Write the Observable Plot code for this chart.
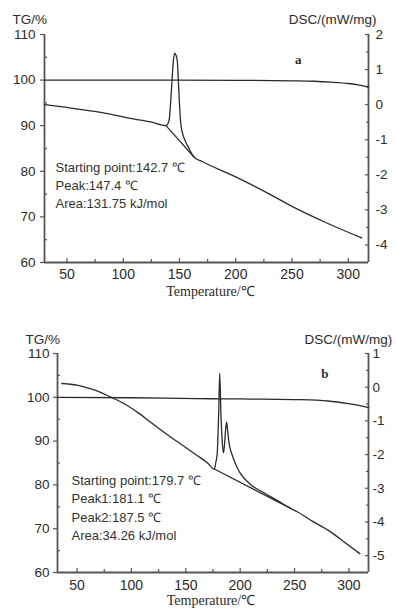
<!DOCTYPE html>
<html><head><meta charset="utf-8">
<script src="https://cdn.jsdelivr.net/npm/d3@7"></script>
<script src="https://cdn.jsdelivr.net/npm/@observablehq/plot@0.6"></script>
<style>
html,body{margin:0;padding:0;background:#fff;width:396px;height:612px;overflow:hidden}
#wrap svg{display:block}
</style></head><body><div id="wrap"></div>
<script>
// ---------- data ----------
const xTicks = [50, 100, 150, 200, 250, 300];
const xMinorTicks = [75, 125, 175, 225, 275];
const tgTicks = [60, 70, 80, 90, 100, 110];
const tgMinorTicks = [65, 75, 85, 95, 105];
const tgDomain = [60, 110];

// chart a
const xDomainA = [30, 318];
const dscDomainA = [-4.5, 2];
const dscTicksA = [2, 1, 0, -1, -2, -3, -4];
const dscMinorA = [1.5, 0.5, -0.5, -1.5, -2.5, -3.5];
const tgTempA = [30, 100, 150, 200, 250, 270, 285, 300, 310, 318];
const tgA     = [100, 100, 100, 99.95, 99.85, 99.75, 99.55, 99.25, 98.9, 98.5];
const dscTempA = [30, 50, 80, 110, 125, 138, 140.7, 142, 142.8, 144.6, 145.8, 147, 148, 149.4, 150.9, 152, 153.8, 156, 158.3, 160.5, 163, 170, 200, 230, 250, 280, 312];
const dscA     = [0, -0.08, -0.22, -0.41, -0.5, -0.6, -0.46, 0.0, 0.4, 1.26, 1.47, 1.4, 1.26, 0.4, -0.46, -0.72, -0.93, -1.1, -1.24, -1.38, -1.5, -1.62, -2.06, -2.55, -2.9, -3.36, -3.8];
const baseTempA = [138, 163];
const baseA     = [-0.6, -1.5];
const notesA = ["Starting point:142.7 \u2103", "Peak:147.4 \u2103", "Area:131.75 kJ/mol"];
const tagA = "a";

// chart b
const xDomainB = [32, 318];
const dscDomainB = [-5.5, 1];
const dscTicksB = [1, 0, -1, -2, -3, -4, -5];
const dscMinorB = [0.5, -0.5, -1.5, -2.5, -3.5, -4.5];
const tgTempB = [32, 100, 160, 210, 250, 270, 283, 298, 310, 318];
const tgB     = [100, 99.9, 99.7, 99.6, 99.48, 99.35, 99.1, 98.6, 98.1, 97.65];
const dscTempB = [36, 50, 62, 70, 80, 95, 108, 118, 136, 145, 160, 170, 176.2, 177.5, 178.9, 180.2, 181.2, 182.2, 183.5, 184.6, 185.5, 186.5, 187.5, 188.5, 189.5, 191, 192.7, 196, 200, 210, 221, 235, 246, 252, 267, 282.5, 295, 310];
const dscB     = [0.11, 0.06, -0.04, -0.13, -0.28, -0.52, -0.8, -1.05, -1.48, -1.68, -2.02, -2.25, -2.43, -2.25, -1.96, -0.8, 0.41, -0.7, -1.6, -1.95, -1.75, -1.3, -1.03, -1.3, -1.6, -1.85, -2.02, -2.3, -2.55, -2.9, -3.12, -3.38, -3.59, -3.69, -3.99, -4.28, -4.58, -4.94];
const baseTempB = [176.2, 246];
const baseB     = [-2.43, -3.59];
const notesB = ["Starting point:179.7 \u2103", "Peak1:181.1 \u2103", "Peak2:187.5 \u2103", "Area:34.26 kJ/mol"];
const tagB = "b";

const yLabel = "TG/%";
const y2Label = "DSC/(mW/mg)";
const xLabel = "Temperature/\u2103";

// ---------- drawing ----------
const ink = "#2b2b2b";
const axisInk = "#555";
const sans = "Liberation Sans, Arial, sans-serif";
const serif = "Liberation Serif, Times New Roman, serif";

function pairs(xs, ys) { return xs.map((x, i) => ({x, y: ys[i]})); }

function chart(c) {
  const [d0, d1] = c.dscDomain;
  const toY = (d) => tgDomain[0] + (d - d0) / (d1 - d0) * (tgDomain[1] - tgDomain[0]);
  const fromY = (v) => d0 + (v - tgDomain[0]) / (tgDomain[1] - tgDomain[0]) * (d1 - d0);
  const fmt = (v) => { const r = Math.round(fromY(v) * 10) / 10; return r < 0 ? "-" + Math.abs(r) : String(r); };
  return Plot.plot({
    width: 396, height: 306,
    marginTop: c.m[0], marginRight: c.m[1], marginBottom: c.m[2], marginLeft: c.m[3],
    x: {domain: c.xDomain},
    y: {domain: tgDomain},
    style: {fontFamily: sans, fontSize: "13px", color: ink, background: "white", overflow: "visible"},
    marks: [
      // axis lines
      Plot.ruleX([c.xDomain[0], c.xDomain[1]], {stroke: axisInk, strokeWidth: 1.8}),
      Plot.ruleY([tgDomain[0]], {stroke: axisInk, strokeWidth: 1.8}),
      // x ticks (inward) and labels
      Plot.axisX({ticks: xTicks, tickSize: 4, dy: -4, fill: "none", stroke: axisInk, strokeWidth: 1.2}),
      Plot.axisX({ticks: xMinorTicks, tickSize: 3, dy: -3, fill: "none", stroke: axisInk, strokeWidth: 1.2}),
      Plot.axisX({ticks: xTicks, tickSize: 0, tickPadding: c.xPad, label: null, fontSize: 14, fill: ink, tickFormat: d3.format("d")}),
      // left axis
      Plot.axisY({ticks: tgTicks, tickSize: 4, fill: "none", stroke: axisInk, strokeWidth: 1.2}),
      Plot.axisY({ticks: tgMinorTicks, tickSize: 3, dx: 3, fill: "none", stroke: axisInk, strokeWidth: 1.2}),
      Plot.axisY({ticks: tgTicks, tickSize: 0, tickPadding: c.yPad, label: null, fontSize: 13.5, fill: ink, tickFormat: d3.format("d")}),
      // right axis
      Plot.axisY({anchor: "right", ticks: c.dscTicks.map(toY), tickSize: 4, dx: -4, fill: "none", stroke: axisInk, strokeWidth: 1.2}),
      Plot.axisY({anchor: "right", ticks: c.dscMinor.map(toY), tickSize: 3, dx: -3, fill: "none", stroke: axisInk, strokeWidth: 1.2}),
      Plot.axisY({anchor: "right", ticks: c.dscTicks.map(toY), tickSize: 0, tickPadding: c.y2Pad, label: null, fontSize: 13.5, fill: ink, tickFormat: fmt}),
      // curves
      Plot.line(pairs(c.tgTemp, c.tg), {x: "x", y: "y", stroke: ink, strokeWidth: 1.3, curve: "monotone-x"}),
      Plot.line(pairs(c.dscTemp, c.dsc).map(p => ({x: p.x, y: toY(p.y)})), {x: "x", y: "y", stroke: ink, strokeWidth: 1.3, strokeLinejoin: "round", curve: "monotone-x"}),
      Plot.line(pairs(c.baseTemp, c.base).map(p => ({x: p.x, y: toY(p.y)})), {x: "x", y: "y", stroke: ink, strokeWidth: 1.2}),
      // texts
      Plot.text([yLabel], {frameAnchor: "top-left", textAnchor: "start", dx: c.yl[0], dy: c.yl[1], fontSize: 13.5, fill: ink}),
      Plot.text([y2Label], {frameAnchor: "top-right", textAnchor: c.y2l[2], dx: c.y2l[0], dy: c.y2l[1], fontSize: 13.5, fill: ink}),
      Plot.text([c.tag], {frameAnchor: "top-right", dx: c.tg2[0], dy: c.tg2[1], fontFamily: serif, fontWeight: "bold", fontSize: 13, fill: ink}),
      Plot.text([c.notes.join("\n")], {frameAnchor: "top-left", textAnchor: "start", lineAnchor: "middle", lineHeight: c.lh, dx: c.nt[0], dy: c.nt[1], fontSize: 13, fill: "#333"}),
      Plot.text([xLabel], {frameAnchor: "bottom", dx: c.xl[0], dy: c.xl[1], fontFamily: serif, fontSize: 14, fill: ink})
    ]
  });
}

const wrap = document.getElementById("wrap");
wrap.append(chart({
  m: [34, 28, 44, 44], xDomain: xDomainA, dscDomain: dscDomainA, dscTicks: dscTicksA, dscMinor: dscMinorA,
  tgTemp: tgTempA, tg: tgA, dscTemp: dscTempA, dsc: dscA, baseTemp: baseTempA, base: baseA,
  notes: notesA, tag: tagA, xPad: 7, yPad: 9, y2Pad: 7,
  yl: [-32, -20], y2l: [8, -20, "end"], tg2: [-67, 20], nt: [11, 150], lh: 1.36, xl: [4, 33]
}));
wrap.append(chart({
  m: [47, 28, 40, 57], xDomain: xDomainB, dscDomain: dscDomainB, dscTicks: dscTicksB, dscMinor: dscMinorB,
  tgTemp: tgTempB, tg: tgB, dscTemp: dscTempB, dsc: dscB, baseTemp: baseTempB, base: baseB,
  notes: notesB, tag: tagB, xPad: 8, yPad: 8, y2Pad: 4,
  yl: [-32, -19], y2l: [-64, -19, "start"], tg2: [-40, 15], nt: [14, 153], lh: 1.41, xl: [-2, 32]
}));
</script>
</body></html>
